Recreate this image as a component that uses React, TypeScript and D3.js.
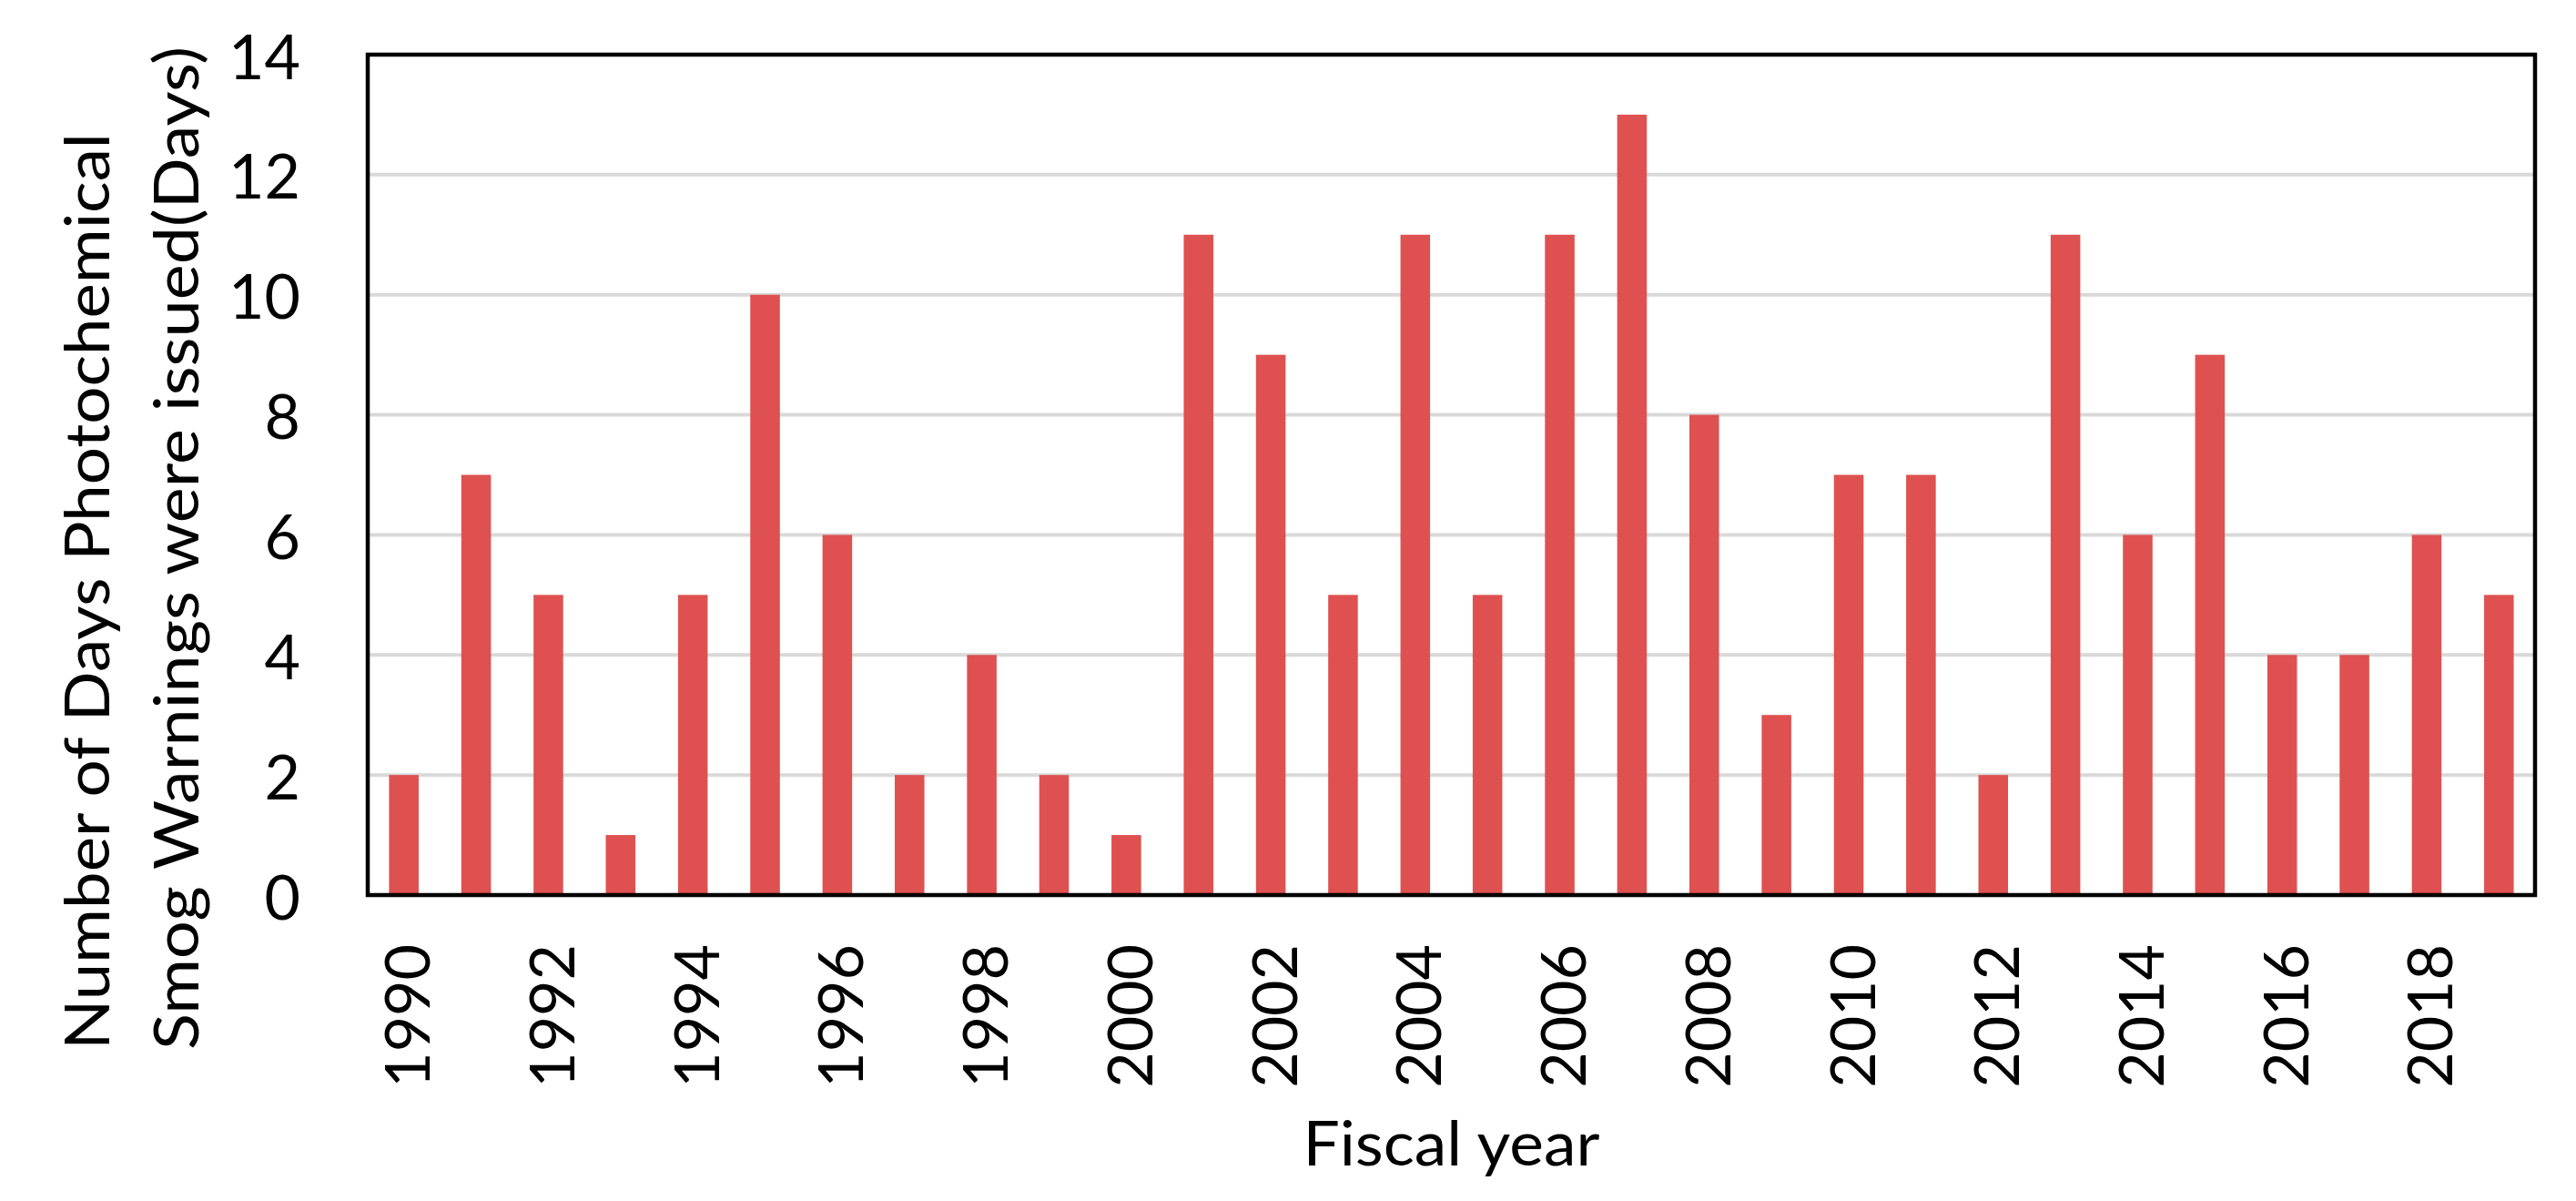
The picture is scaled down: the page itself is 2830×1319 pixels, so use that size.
import React from "react";
import * as d3 from "d3";

const years: number[] = [
  1990, 1991, 1992, 1993, 1994, 1995, 1996, 1997, 1998, 1999,
  2000, 2001, 2002, 2003, 2004, 2005, 2006, 2007, 2008, 2009,
  2010, 2011, 2012, 2013, 2014, 2015, 2016, 2017, 2018, 2019,
];
const days: number[] = [
  2, 7, 5, 1, 5, 10, 6, 2, 4, 2,
  1, 11, 9, 5, 11, 5, 11, 13, 8, 3,
  7, 7, 2, 11, 6, 9, 4, 4, 6, 5,
];
const yTicks: number[] = [0, 2, 4, 6, 8, 10, 12, 14];
const xTickYears: number[] = years.filter((y) => y % 2 === 0);
const yTitleLines: string[] = ["Number of Days Photochemical", "Smog Warnings were issued(Days)"];
const yTitleLengths: number[] = [1007, 1102];
const xTitle = "Fiscal year";

const W = 2830;
const H = 1319;
const M = { left: 404, right: W - 2785, top: 60, bottom: H - 983 };
const FONT = "Lato, 'Open Sans', sans-serif";
const BAR = "#DE5150";

export default function App() {
  const x = d3
    .scaleBand<number>()
    .domain(years)
    .range([M.left, W - M.right])
    .paddingInner(0.59)
    .paddingOuter(0.295);
  const y = d3.scaleLinear().domain([0, 14]).range([H - M.bottom, M.top]);
  const plotCx = (M.left + W - M.right) / 2;

  return (
    <svg
      width={W}
      height={H}
      style={{ position: "absolute", left: 0, top: 0, background: "#fff" }}
      fontFamily={FONT}
    >
      <rect x={0} y={0} width={W} height={H} fill="#fff" />
      {yTicks
        .filter((t) => t > 0 && t < 14)
        .map((t) => (
          <line
            key={"g" + t}
            x1={M.left}
            x2={W - M.right}
            y1={y(t)}
            y2={y(t)}
            stroke="#D9D9D9"
            strokeWidth={4}
          />
        ))}
      {years.map((yr, i) => (
        <rect
          key={yr}
          x={x(yr)!}
          width={x.bandwidth()}
          y={y(days[i])}
          height={y(0) - y(days[i])}
          fill={BAR}
        />
      ))}
      <rect
        x={M.left}
        y={M.top}
        width={W - M.right - M.left}
        height={H - M.bottom - M.top}
        fill="none"
        stroke="#000"
        strokeWidth={4.5}
      />
      {yTicks.map((t) => (
        <text
          key={"yt" + t}
          x={330}
          y={y(t)}
          textAnchor="end"
          dominantBaseline="central"
          fontSize={68}
          fill="#000"
        >
          {t}
        </text>
      ))}
      {xTickYears.map((yr) => {
        const cx = x(yr)! + x.bandwidth() / 2 + 2;
        const ty = 1037;
        return (
          <text
            key={"xt" + yr}
            transform={`translate(${cx},${ty}) rotate(-90)`}
            textAnchor="end"
            dominantBaseline="central"
            fontSize={68}
            fill="#000"
          >
            {yr}
          </text>
        );
      })}
      <text
        x={plotCx}
        y={1280}
        textAnchor="middle"
        fontSize={68}
        fill="#000"
        textLength={326}
        lengthAdjust="spacingAndGlyphs"
      >
        {xTitle}
      </text>
      {yTitleLines.map((line, i) => (
        <text
          key={"yl" + i}
          transform={`translate(${120 + i * 98},${1153}) rotate(-90)`}
          textAnchor="start"
          fontSize={68}
          fill="#000"
          textLength={yTitleLengths[i]}
          lengthAdjust="spacingAndGlyphs"
        >
          {line}
        </text>
      ))}
    </svg>
  );
}
